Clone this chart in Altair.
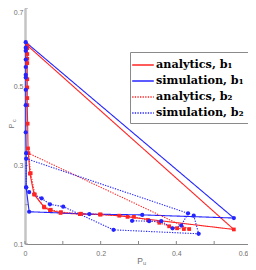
import altair as alt
import pandas as pd

# ---- data ----
names = ["analytics, b\u2081", "simulation, b\u2081", "analytics, b\u2082", "simulation, b\u2082"]

ab1_x = [0.006, 0.006, 0.006, 0.006, 0.006, 0.006, 0.006, 0.006, 0.006, 0.007, 0.008,
         0.013, 0.024, 0.051, 0.066, 0.094, 0.145, 0.200, 0.249, 0.271, 0.552]
ab1_y = [0.605, 0.598, 0.583, 0.571, 0.560, 0.519, 0.498, 0.471, 0.453, 0.406, 0.343,
         0.279, 0.226, 0.193, 0.186, 0.179, 0.176, 0.175, 0.172, 0.169, 0.137]

sb1_x = [0.002, 0.002, 0.002, 0.002, 0.002, 0.002, 0.002, 0.002, 0.002, 0.002, 0.003,
         0.003, 0.011, 0.170, 0.310, 0.552]
sb1_y = [0.613, 0.599, 0.591, 0.569, 0.550, 0.530, 0.523, 0.492, 0.453, 0.384, 0.331,
         0.244, 0.182, 0.176, 0.174, 0.166]

ab2_x = [0.009, 0.015, 0.026, 0.050, 0.068, 0.095, 0.148, 0.198, 0.288, 0.325, 0.355,
         0.381, 0.402, 0.420, 0.434]
ab2_y = [0.331, 0.280, 0.226, 0.195, 0.187, 0.181, 0.177, 0.175, 0.169, 0.161, 0.154,
         0.145, 0.140, 0.138, 0.138]

sb2_x = [0.446, 0.459, 0.234, 0.101, 0.066, 0.044, 0.011, 0.003, 0.003, 0.431, 0.413,
         0.390, 0.360, 0.328, 0.283]
sb2_y = [0.172, 0.126, 0.136, 0.195, 0.201, 0.216, 0.232, 0.244, 0.317, 0.178, 0.147,
         0.140, 0.158, 0.158, 0.159]

closed = [True, True, True, False]

x_ticks = [0, 0.1, 0.2, 0.3, 0.4, 0.5, 0.6]
y_ticks = [0.1, 0.2, 0.3, 0.4, 0.5, 0.6, 0.7]

RED = "#ff2424"
BLUE = "#2424ff"

# ---- build tables ----
series_xy = [(ab1_x, ab1_y), (sb1_x, sb1_y), (ab2_x, ab2_y), (sb2_x, sb2_y)]
line_rows, pt_rows = [], []
for name, (xs_, ys_), cl in zip(names, series_xy, closed):
    for i, (x, y) in enumerate(zip(xs_, ys_)):
        line_rows.append({"series": name, "px": x, "py": y, "i": i})
        pt_rows.append({"series": name, "px": x, "py": y})
    if cl:
        line_rows.append({"series": name, "px": xs_[0], "py": ys_[0], "i": len(xs_)})
lines_df = pd.DataFrame(line_rows)
pts_df = pd.DataFrame(pt_rows)

W, H = 227, 236
xs = alt.Scale(domain=[0, 0.6], nice=False, zero=False)
ys = alt.Scale(domain=[0.1, 0.7], nice=False, zero=False)

LABEL_FONT = "Liberation Sans"
GRAY = "#707070"

xaxis = alt.Axis(values=x_ticks, format="~g", title=None, grid=False, ticks=False,
                 domainColor="#888888", domainWidth=1.2, labelFont=LABEL_FONT,
                 labelFontSize=7, labelColor=GRAY, labelPadding=5,
                 labelAlign={"condition": {"test": "datum.value > 0.55", "value": "right"},
                             "value": "center"},
                 labelOffset={"condition": {"test": "datum.value > 0.55", "value": -4},
                              "value": 0})
yaxis = alt.Axis(values=y_ticks, format="~g", title=None, grid=False, ticks=False,
                 domainColor="#c4c4c4", domainWidth=2.5, labelFont=LABEL_FONT,
                 labelFontSize=7, labelColor=GRAY, labelPadding=2,
                 labelBaseline={"condition": {"test": "datum.value > 0.65", "value": "top"},
                                "value": "middle"})

legend = alt.Legend(orient="none", legendX=105, legendY=44, title=None,
                    symbolType="M-1.35,0L1.35,0", symbolSize=256, symbolStrokeWidth=1.3,
                    labelFont="DejaVu Serif", labelFontWeight="bold", labelFontSize=11.2,
                    labelColor="black", strokeColor="#8a8a8a", fillColor="white",
                    padding=4, rowPadding=1, labelOffset=4)

lines = alt.Chart(lines_df).mark_line(strokeWidth=1.1, clip=False).encode(
    x=alt.X("px:Q", scale=xs, axis=xaxis),
    y=alt.Y("py:Q", scale=ys, axis=yaxis),
    color=alt.Color("series:N", scale=alt.Scale(domain=names, range=[RED, BLUE, RED, BLUE]),
                    legend=legend, sort=names),
    strokeDash=alt.StrokeDash("series:N",
                              scale=alt.Scale(domain=names,
                                              range=[[1, 0], [1, 0], [1.3, 1.3], [1.3, 1.3]]),
                              legend=legend, sort=names),
    detail="series:N",
    order="i:Q",
)

red_pts = alt.Chart(pts_df).transform_filter(
    alt.FieldOneOfPredicate(field="series", oneOf=[names[0], names[2]])
).mark_square(size=14, opacity=1, color=RED).encode(
    x=alt.X("px:Q", scale=xs), y=alt.Y("py:Q", scale=ys))

blue_pts = alt.Chart(pts_df).transform_filter(
    alt.FieldOneOfPredicate(field="series", oneOf=[names[1], names[3]])
).mark_circle(size=18, opacity=1, color=BLUE).encode(
    x=alt.X("px:Q", scale=xs), y=alt.Y("py:Q", scale=ys))

xt = alt.Chart(pd.DataFrame({"t": x_ticks})).mark_rule(color="#888888", strokeWidth=1).encode(
    x=alt.X("t:Q", scale=xs), y=alt.value(H), y2=alt.value(H - 3))
yt = alt.Chart(pd.DataFrame({"t": y_ticks})).mark_rule(color="#999999", strokeWidth=1).encode(
    y=alt.Y("t:Q", scale=ys), x=alt.value(0), x2=alt.value(3))

one = pd.DataFrame({"k": [0]})
xtitle = alt.Chart(one).mark_text(text="P", font=LABEL_FONT, fontSize=8.5, color=GRAY,
                                  align="center", baseline="middle").encode(
    x=alt.value(115), y=alt.value(252.5))
xsub = alt.Chart(one).mark_text(text="u", font=LABEL_FONT, fontSize=5.5, color=GRAY,
                                align="left", baseline="middle").encode(
    x=alt.value(118), y=alt.value(254.5))
ytitle = alt.Chart(one).mark_text(text="P", font=LABEL_FONT, fontSize=7, color=GRAY,
                                  angle=270, align="center", baseline="middle").encode(
    x=alt.value(-13), y=alt.value(118))
ysub = alt.Chart(one).mark_text(text="c", font=LABEL_FONT, fontSize=5.5, color=GRAY,
                                angle=270, align="left", baseline="middle").encode(
    x=alt.value(-11), y=alt.value(114))

chart = alt.layer(yt, xt, lines, red_pts, blue_pts, xtitle, xsub, ytitle, ysub).properties(
    width=W, height=H,
    autosize=alt.AutoSizeParams(type="none"),
    padding={"left": 17, "top": 0, "right": -4, "bottom": 22},
).configure_view(stroke=None)

chart.save("out.html", embed_options={"renderer": "svg", "actions": False})
